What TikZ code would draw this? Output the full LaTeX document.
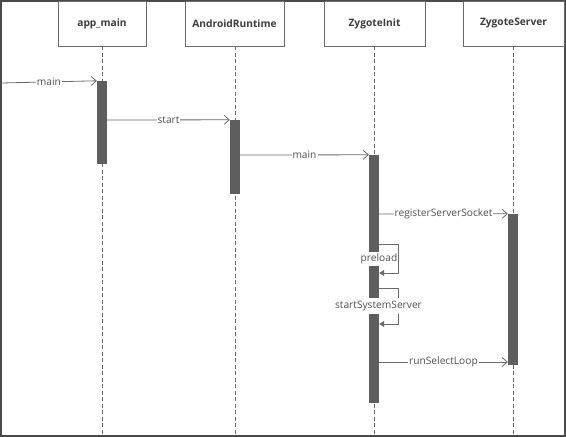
\documentclass[tikz,border=0pt]{standalone}
\usepackage{fontspec}
\setmainfont{Open Sans}
\usetikzlibrary{arrows.meta}
\definecolor{framec}{HTML}{4A4A4A}
\definecolor{linec}{HTML}{6A6A6A}
\definecolor{barc}{HTML}{5E5E5E}
\definecolor{textc}{HTML}{3C3C3C}
\definecolor{msgtextc}{HTML}{505050}
\tikzset{
  head/.style={draw=linec, line width=0.9pt, fill=white, minimum height=45pt, inner sep=0pt,
    font=\fontsize{10.2}{12}\selectfont\bfseries, text=textc},
  life/.style={draw=linec, dashed, dash pattern=on 4pt off 2.5pt, line width=0.8pt},
  actbar/.style={fill=barc, draw=none, minimum width=10pt, inner sep=0pt},
  msg/.style={draw=linec, line width=0.8pt, -{Straight Barb[length=5pt,width=9pt,line width=0.8pt]}},
  selfmsg/.style={draw=linec, line width=0.8pt, -{Triangle[length=5pt,width=6pt]}},
  lbl/.style={fill=white, inner xsep=1pt, inner ysep=0.5pt, font=\fontsize{10.2}{12}\selectfont, text=msgtextc},
}
\begin{document}
\begin{tikzpicture}[x=1pt,y=-1pt]
\useasboundingbox (0,0) rectangle (566,437);
% frame
\draw[framec, line width=1.5pt] (1,1) rectangle (565,436);
% headers
\node[head, minimum width=88pt] (h1) at (102,23.5) {app\_main};
\node[head, minimum width=99pt] (h2) at (234.5,23.5) {AndroidRuntime};
\node[head, minimum width=101pt] (h3) at (374.5,23.5) {ZygoteInit};
\node[head, minimum width=101pt] (h4) at (513.5,23.5) {ZygoteServer};
% lifelines
\coordinate (e1) at (102,435);
\coordinate (e2) at (235,435);
\coordinate (e3) at (374,435);
\coordinate (e4) at (513,435);
\draw[life] (h1.south -| e1) -- (e1);
\draw[life] (h2.south -| e2) -- (e2);
\draw[life] (h3.south -| e3) -- (e3);
\draw[life] (h4.south -| e4) -- (e4);
% activation bars
\node[actbar, minimum height=83pt] (b1) at (102,122.5) {};
\node[actbar, minimum height=74pt] (b2) at (235,157) {};
\node[actbar, minimum height=248pt] (b3) at (374,279) {};
\node[actbar, minimum height=151pt] (b4) at (513,289.5) {};
% messages
\coordinate (src) at (1,83);
\draw[msg] (src) -- node[lbl, pos=0.5] {main} (b1.north west);
\coordinate (y2) at (0,120);
\draw[msg] (b1.east |- y2) -- node[lbl] {start} (b2.north west);
\coordinate (y3) at (0,155);
\draw[msg] (b2.east |- y3) -- node[lbl] {main} (b3.north west);
\coordinate (y4) at (0,214);
\draw[msg] (b3.east |- y4) -- node[lbl] {registerServerSocket} (b4.north west);
% self messages
\coordinate (p1) at (398,244);
\coordinate (p2) at (398,273);
\draw[selfmsg] (b3.east |- p1) -- (p1) -- (p2) -- (b3.east |- p2);
\node[lbl, inner ysep=2pt] (pl) at (379,259) {preload};
\coordinate (s1) at (398,288);
\coordinate (s2) at (398,324);
\draw[selfmsg] (b3.east |- s1) -- (s1) -- (s2) -- (b3.east |- s2);
\node[lbl, inner ysep=3pt] (ss) at (378.5,306) {startSystemServer};
\coordinate (y7) at (0,362);
\draw[msg] (b3.east |- y7) -- node[lbl] {runSelectLoop} (b4.west |- y7);
\end{tikzpicture}
\end{document}
